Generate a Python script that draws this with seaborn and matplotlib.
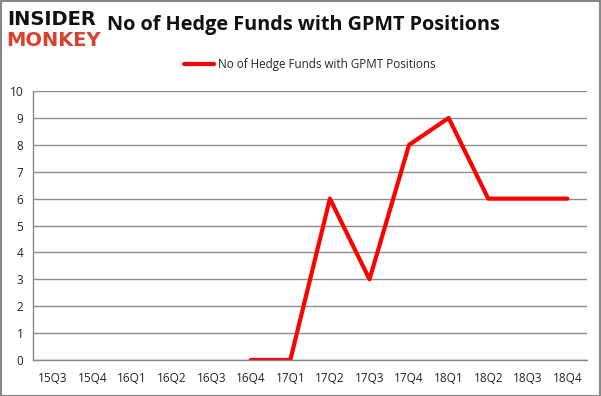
import numpy as np
import pandas as pd
import matplotlib.pyplot as plt
import seaborn as sns

quarters = ['15Q3', '15Q4', '16Q1', '16Q2', '16Q3', '16Q4', '17Q1',
            '17Q2', '17Q3', '17Q4', '18Q1', '18Q2', '18Q3', '18Q4']
funds = [np.nan, np.nan, np.nan, np.nan, np.nan, 0, 0, 6, 3, 8, 9, 6, 6, 6]
series_name = 'No of Hedge Funds with GPMT Positions'

df = pd.DataFrame({'pos': range(len(quarters)), 'quarter': quarters, 'funds': funds})

sns.set_style('white')
plt.rcParams['font.family'] = ['Open Sans', 'DejaVu Sans']

fig = plt.figure(figsize=(6.01, 3.96), dpi=100)
ax = fig.add_axes([0.055, 0.091, 0.922, 0.679])

sns.lineplot(data=df.dropna(), x='pos', y='funds', color='#ff0000', linewidth=3,
             label=series_name, ax=ax)

ax.set_xlim(-0.5, len(quarters) - 0.5)
ax.set_ylim(0, 10)
ax.set_yticks(range(0, 11))
ax.set_xticks(range(len(quarters)))
ax.set_xticklabels(quarters)
ax.set_xticks(np.arange(-0.5, len(quarters), 1), minor=True)
ax.tick_params(axis='x', which='major', length=0, pad=9, labelsize=8.5, colors='#222222')
ax.tick_params(axis='x', which='minor', length=5, color='#888888', width=1)
ax.tick_params(axis='y', length=5, color='#888888', labelsize=8.5, pad=2)
ax.tick_params(axis='y', colors='#888888', labelcolor='#222222')
ax.yaxis.grid(True, color='#8c8c8c', linewidth=1)
ax.set_axisbelow(True)
for s in ['top', 'right']:
    ax.spines[s].set_visible(False)
for s in ['left', 'bottom']:
    ax.spines[s].set_color('#888888')
    ax.spines[s].set_linewidth(1)
ax.set_xlabel('')
ax.set_ylabel('')

leg = ax.legend(loc='lower center', bbox_to_anchor=(0.5, 1.035), frameon=False,
                fontsize=8.4, handlelength=2.5, handletextpad=0.4)

fig.text(0.505, 0.937, series_name, ha='center', va='center', fontsize=14.3,
         fontweight='bold', color='#111111')
fig.text(0.012, 0.952, 'INSIDER', ha='left', va='center', fontsize=14,
         fontweight='heavy', color='#111111', family='DejaVu Sans')
fig.text(0.010, 0.897, 'MONKEY', ha='left', va='center', fontsize=14,
         fontweight='heavy', color='#d9412c', family='DejaVu Sans')

fig.patches.append(plt.Rectangle((0.001, 0.001), 0.997, 0.997, transform=fig.transFigure,
                                 fill=False, edgecolor='#888888', linewidth=1.5))

fig.savefig('out.png', dpi=100)
